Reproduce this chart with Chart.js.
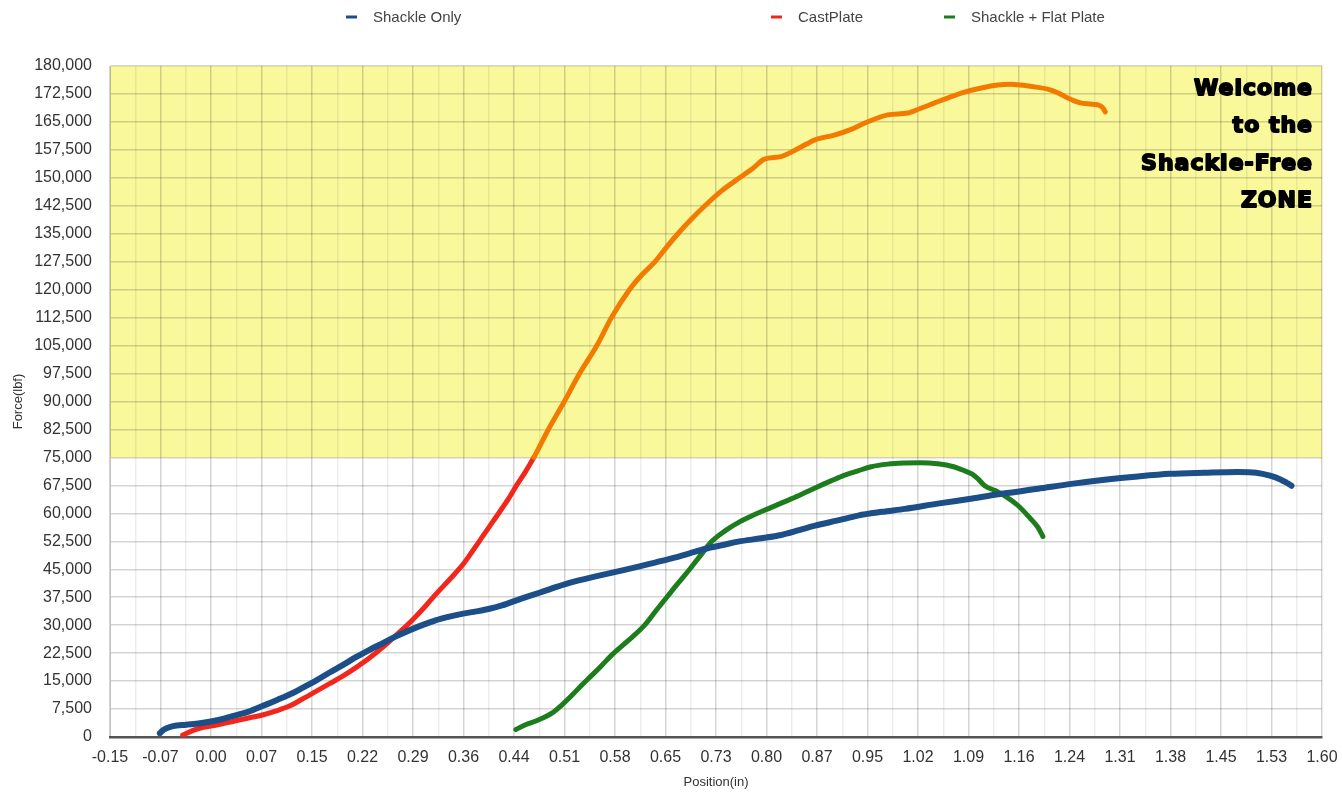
<!DOCTYPE html>
<html>
<head>
<meta charset="utf-8">
<script src="https://cdn.jsdelivr.net/npm/chart.js@4/dist/chart.umd.min.js"></script>
<style>
  html, body { margin: 0; padding: 0; background: #ffffff; }
  #wrap { width: 1342px; height: 793px; position: relative; }
</style>
</head>
<body>
<div id="wrap"><canvas id="c" width="1342" height="793"></canvas></div>
<script>
// ---- Data ----
const xTickLabels = ["-0.15","-0.07","0.00","0.07","0.15","0.22","0.29","0.36","0.44","0.51","0.58","0.65","0.73","0.80","0.87","0.95","1.02","1.09","1.16","1.24","1.31","1.38","1.45","1.53","1.60"];
const xMin = -0.15, xMax = 1.60;
const yMin = 0, yMax = 180000, yStep = 7500;
const zoneThreshold = 75000;

const seriesNames = ["Shackle Only", "CastPlate", "Shackle + Flat Plate"];

const shackleX = [-0.078, -0.072, -0.059, -0.040, -0.020, 0.005, 0.027, 0.050, 0.070, 0.092, 0.114, 0.130, 0.148, 0.167, 0.186, 0.205, 0.224, 0.244, 0.263, 0.282, 0.301, 0.320, 0.340, 0.360, 0.379, 0.398, 0.416, 0.445, 0.470, 0.495, 0.520, 0.556, 0.585, 0.613, 0.637, 0.661, 0.686, 0.710, 0.735, 0.757, 0.790, 0.819, 0.845, 0.868, 0.901, 0.930, 0.965, 0.998, 1.045, 1.093, 1.140, 1.190, 1.238, 1.286, 1.334, 1.381, 1.430, 1.478, 1.505, 1.525, 1.540, 1.549, 1.556];
const shackleY = [1000, 2000, 2900, 3300, 3700, 4500, 5600, 6800, 8300, 10000, 11800, 13400, 15200, 17300, 19300, 21400, 23300, 25200, 27000, 28600, 30000, 31300, 32300, 33100, 33700, 34400, 35300, 37200, 38700, 40300, 41700, 43300, 44500, 45700, 46800, 47900, 49200, 50500, 51500, 52400, 53300, 54200, 55500, 56700, 58100, 59400, 60400, 61200, 62600, 63900, 65300, 66600, 67900, 69000, 69900, 70600, 70900, 71100, 70900, 70100, 69100, 68200, 67400];

const castX = [-0.045, -0.030, -0.015, 0.004, 0.030, 0.050, 0.070, 0.090, 0.109, 0.128, 0.148, 0.167, 0.186, 0.205, 0.224, 0.244, 0.263, 0.278, 0.292, 0.306, 0.320, 0.334, 0.348, 0.361, 0.375, 0.388, 0.401, 0.413, 0.425, 0.437, 0.450, 0.462, 0.483, 0.506, 0.528, 0.553, 0.574, 0.600, 0.618, 0.637, 0.654, 0.670, 0.690, 0.709, 0.733, 0.759, 0.778, 0.795, 0.819, 0.845, 0.868, 0.897, 0.920, 0.940, 0.973, 1.002, 1.020, 1.041, 1.062, 1.084, 1.108, 1.132, 1.150, 1.165, 1.185, 1.204, 1.220, 1.233, 1.251, 1.265, 1.276, 1.283, 1.287];
const castY = [500, 1800, 2600, 3200, 4300, 5100, 5900, 7000, 8300, 10200, 12300, 14300, 16300, 18600, 21100, 24100, 27300, 29800, 32400, 35200, 38200, 41000, 43800, 46600, 50300, 53800, 57300, 60500, 63800, 67500, 71200, 75000, 82500, 90000, 97500, 105000, 112500, 120000, 124000, 127500, 131500, 135000, 139000, 142500, 146500, 150000, 152500, 155000, 155700, 158000, 160200, 161500, 163000, 164700, 166900, 167400, 168600, 170100, 171600, 173000, 174100, 174900, 175100, 174900, 174400, 173800, 172700, 171400, 170100, 169800, 169600, 168900, 167700];

const flatX = [0.436, 0.450, 0.465, 0.488, 0.503, 0.517, 0.531, 0.546, 0.560, 0.574, 0.596, 0.622, 0.638, 0.654, 0.670, 0.687, 0.703, 0.719, 0.738, 0.759, 0.780, 0.800, 0.820, 0.844, 0.868, 0.891, 0.910, 0.930, 0.949, 0.973, 0.998, 1.020, 1.045, 1.068, 1.084, 1.095, 1.103, 1.113, 1.128, 1.142, 1.161, 1.179, 1.190, 1.197];
const flatY = [2000, 3300, 4300, 6400, 8700, 11200, 13900, 16600, 19200, 21900, 25500, 30000, 33800, 37500, 41200, 45000, 48800, 52500, 55300, 57700, 59600, 61200, 62800, 64700, 66800, 68700, 70200, 71400, 72500, 73200, 73500, 73600, 73300, 72500, 71400, 70500, 69300, 67400, 66100, 64700, 62100, 58600, 56200, 53800];

// ---- Styles ----
const colBlue = "#1c4e88";
const colRed = "#f2261a";
const colOrange = "#f27a00";
const colGreen = "#1d7d1d";
const zoneFill = "#f9f99c";

function pts(xs, ys) { return xs.map((x, i) => ({ x: x, y: ys[i] })); }

const zonePlugin = {
  id: "zone",
  beforeDraw(chart) {
    const { ctx, chartArea, scales } = chart;
    const yTop = scales.y.getPixelForValue(yMax);
    const yBot = scales.y.getPixelForValue(zoneThreshold);
    ctx.save();
    ctx.fillStyle = zoneFill;
    ctx.fillRect(chartArea.left, yTop, chartArea.right - chartArea.left, yBot - yTop);
    ctx.restore();
  },
  afterDraw(chart) {
    const { ctx, chartArea } = chart;
    // Zone annotation text
    const lines = ["Welcome", "to the", "Shackle-Free", "ZONE"];
    ctx.save();
    ctx.fillStyle = "#000";
    ctx.strokeStyle = "#000";
    ctx.lineWidth = 1.8;
    ctx.lineJoin = "round";
    ctx.font = 'bold 22px "DejaVu Sans"';
    ctx.textAlign = "right";
    ctx.textBaseline = "middle";
    try { ctx.letterSpacing = "1px"; } catch (e) {}
    lines.forEach((t, i) => {
      const y = chartArea.top + 23 + i * 37.5;
      ctx.fillText(t, chartArea.right - 9, y);
      ctx.strokeText(t, chartArea.right - 9, y);
    });
    ctx.restore();

    // Custom legend
    const legendX = [346, 771, 944];
    ctx.save();
    ctx.font = '15px "Liberation Sans"';
    ctx.textAlign = "left";
    ctx.textBaseline = "middle";
    chart.data.datasets.forEach((ds, i) => {
      const x = legendX[i];
      const y = 17;
      ctx.strokeStyle = ds.legendColor;
      ctx.lineWidth = 3;
      ctx.beginPath();
      ctx.moveTo(x, y);
      ctx.lineTo(x + 11, y);
      ctx.stroke();
      ctx.fillStyle = "#444";
      ctx.fillText(ds.label, x + 27, y + 1);
    });
    ctx.restore();
  }
};

const ctx = document.getElementById("c").getContext("2d");
const common = {
  pointRadius: 0,
  cubicInterpolationMode: "monotone",
  borderCapStyle: "round",
  borderJoinStyle: "round"
};
new Chart(ctx, {
  type: "line",
  data: {
    datasets: [
      Object.assign({
        label: seriesNames[0],
        data: pts(shackleX, shackleY),
        borderColor: colBlue,
        legendColor: colBlue,
        borderWidth: 6
      }, common),
      Object.assign({
        label: seriesNames[1],
        data: pts(castX, castY),
        borderColor: colRed,
        legendColor: colRed,
        borderWidth: 5,
        segment: {
          borderColor: c => (c.p0.parsed.y >= zoneThreshold && c.p1.parsed.y >= zoneThreshold) ? colOrange : colRed
        }
      }, common),
      Object.assign({
        label: seriesNames[2],
        data: pts(flatX, flatY),
        borderColor: colGreen,
        legendColor: colGreen,
        borderWidth: 5
      }, common)
    ]
  },
  options: {
    responsive: false,
    animation: false,
    layout: { padding: { top: 66, right: 20, left: 0, bottom: 0 } },
    plugins: {
      legend: { display: false },
      tooltip: { enabled: false }
    },
    scales: {
      x: {
        type: "linear",
        min: xMin,
        max: xMax,
        afterBuildTicks(scale) {
          const n = (xTickLabels.length - 1) * 2;
          const ticks = [];
          for (let k = 0; k <= n; k++) ticks.push({ value: xMin + k * (xMax - xMin) / n });
          scale.ticks = ticks;
        },
        afterFit(scale) { scale.height = 56; scale.paddingLeft = 0; scale.paddingRight = 0; },
        ticks: {
          autoSkip: false,
          maxRotation: 0,
          padding: 11,
          color: "#333",
          font: { family: "Liberation Sans", size: 16 },
          callback: (v, i) => (i % 2 === 0 ? xTickLabels[i / 2] : "")
        },
        grid: {
          drawTicks: false,
          color: c => (c.index % 2 === 0 ? "rgba(0,0,0,0.17)" : "rgba(0,0,0,0.07)"),
          lineWidth: 1.5
        },
        border: { color: "#555", width: 2.5 },
        title: {
          display: true,
          text: "Position(in)",
          color: "#333",
          font: { family: "Liberation Sans", size: 13 },
          padding: { top: 0, bottom: 3 }
        }
      },
      y: {
        type: "linear",
        min: yMin,
        max: yMax,
        afterFit(scale) { scale.width = 110; },
        ticks: {
          stepSize: yStep,
          padding: 18,
          color: "#333",
          font: { family: "Liberation Sans", size: 16 },
          callback: v => Number(v).toLocaleString("en-US")
        },
        grid: {
          drawTicks: false,
          color: "rgba(0,0,0,0.17)",
          lineWidth: 1.5
        },
        border: { color: "rgba(0,0,0,0.17)", width: 1 },
        title: {
          display: true,
          text: "Force(lbf)",
          color: "#333",
          font: { family: "Liberation Sans", size: 13 },
          padding: { top: 11, bottom: 0 }
        }
      }
    }
  },
  plugins: [zonePlugin]
});
</script>
</body>
</html>
